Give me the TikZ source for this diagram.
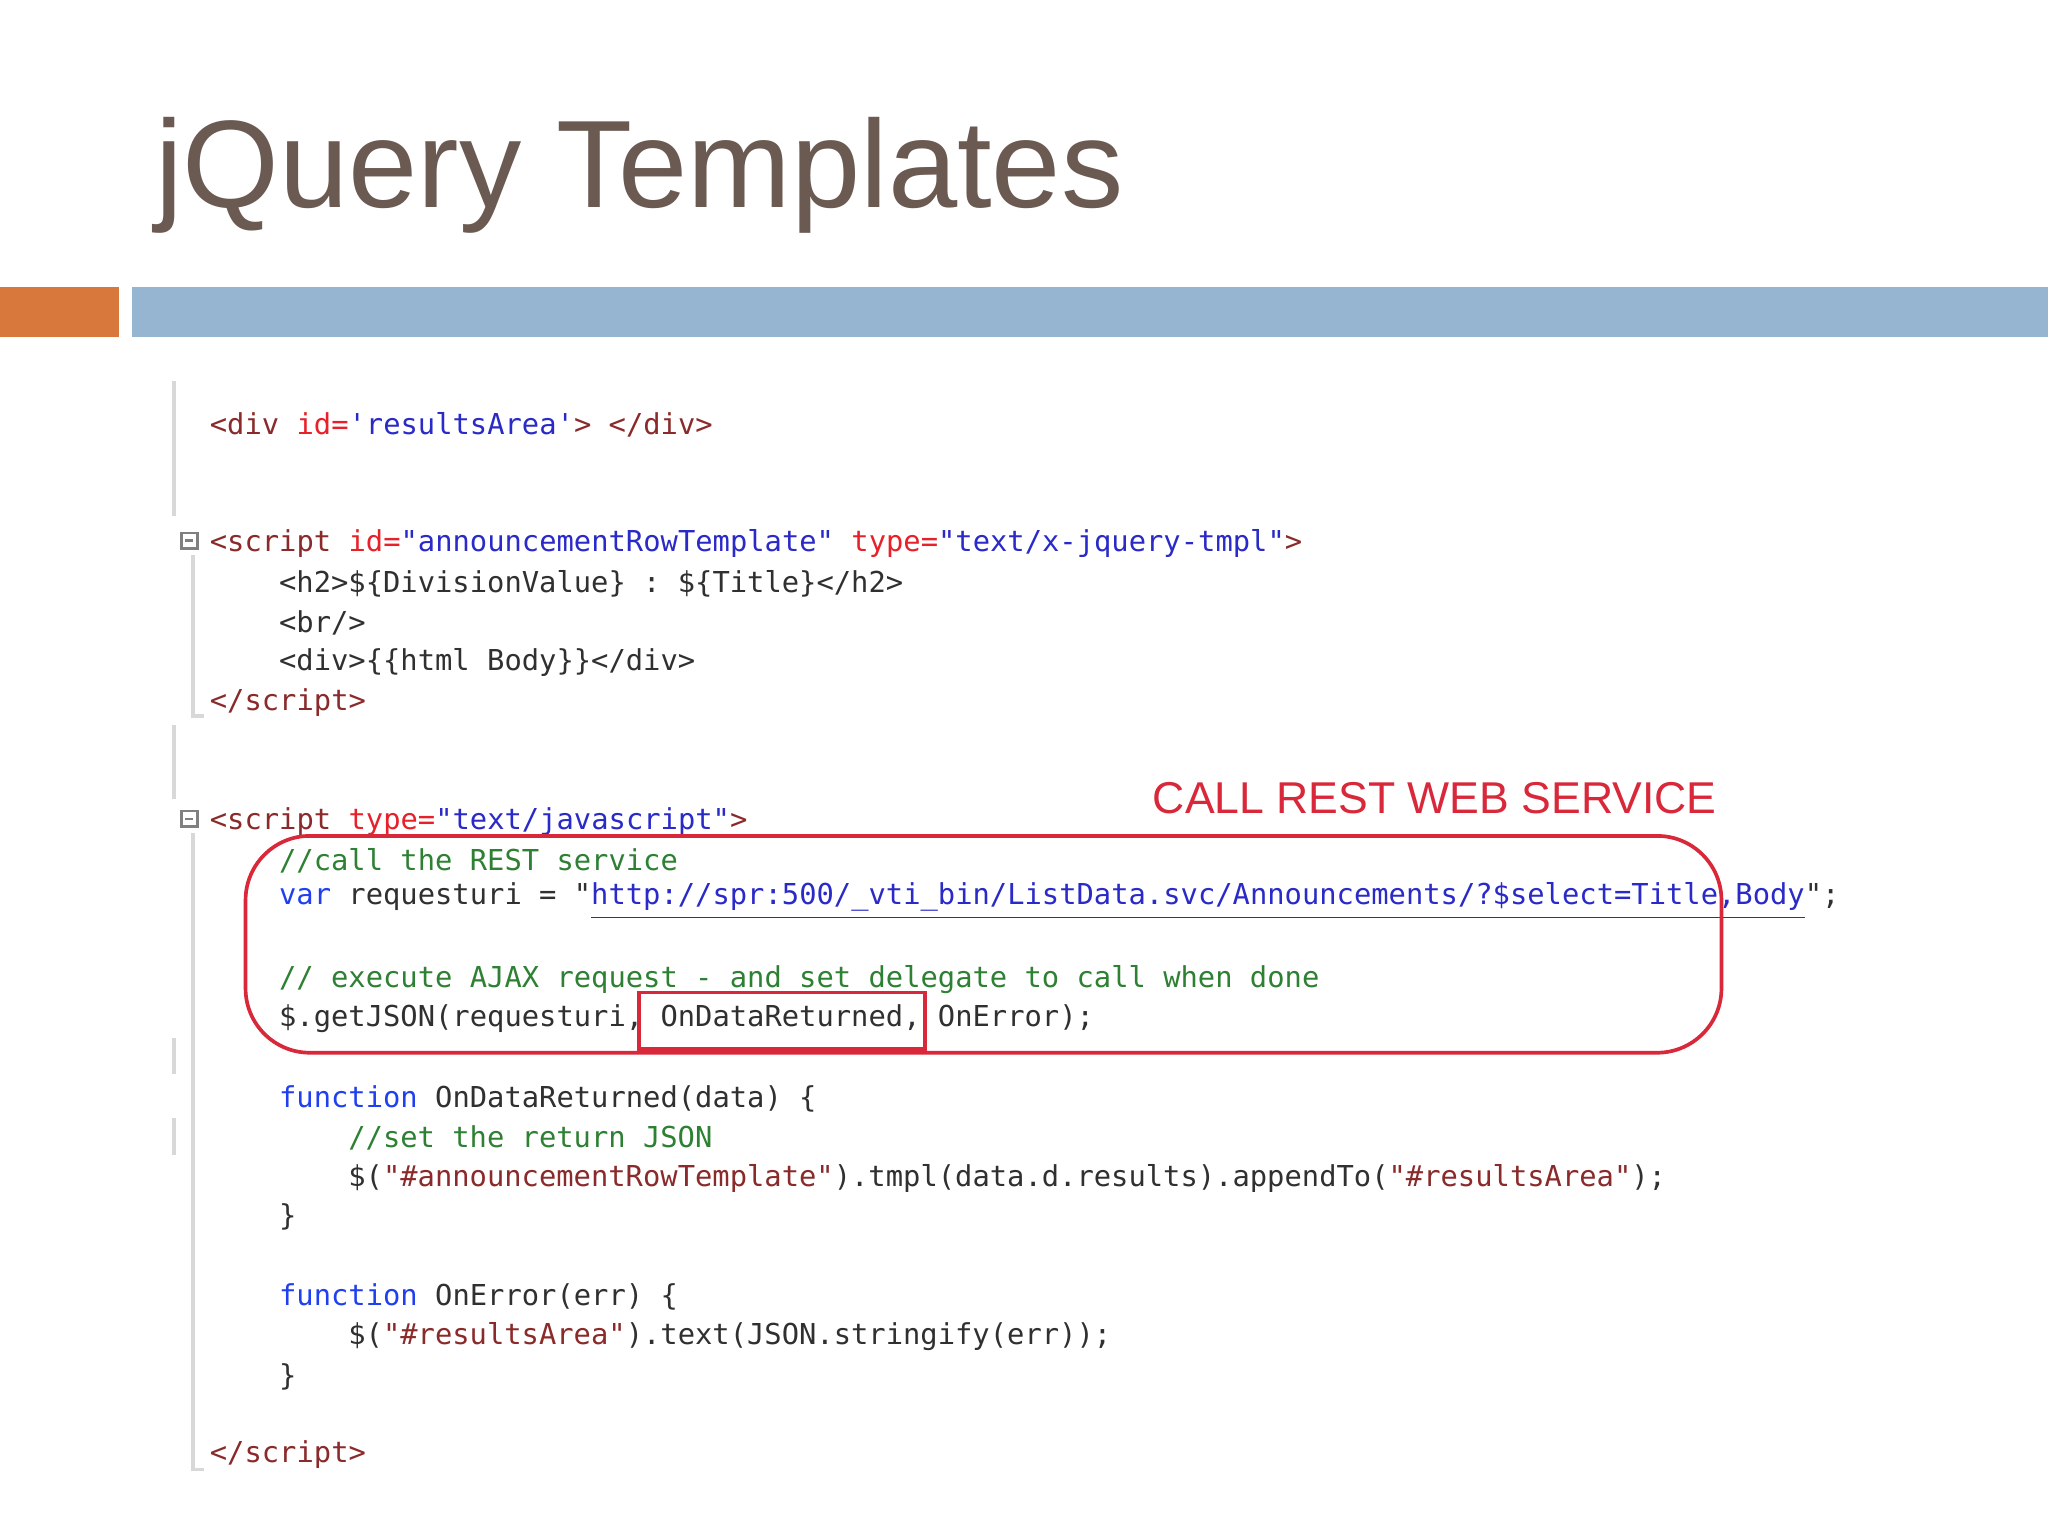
\documentclass[tikz,border=0pt]{standalone}
\usepackage{fontspec}
\setmainfont{Liberation Sans}
\setmonofont{DejaVu Sans Mono}
\definecolor{titlec}{HTML}{6B5A52}
\definecolor{orangec}{HTML}{D9783C}
\definecolor{bluebar}{HTML}{95B5D1}
\definecolor{tagc}{HTML}{8A2A2A}
\definecolor{attrc}{HTML}{E8202A}
\definecolor{valc}{HTML}{2A2AC8}
\definecolor{cmtc}{HTML}{2E8033}
\definecolor{kwc}{HTML}{2040F0}
\definecolor{codec}{HTML}{303030}
\definecolor{redbox}{HTML}{D8283A}
\definecolor{gutter}{HTML}{D8D8D8}
\newcommand\Tg[1]{\textcolor{tagc}{#1}}
\newcommand\At[1]{\textcolor{attrc}{#1}}
\newcommand\Va[1]{\textcolor{valc}{#1}}
\newcommand\Cm[1]{\textcolor{cmtc}{#1}}
\newcommand\Kw[1]{\textcolor{kwc}{#1}}
\begin{document}
\begin{tikzpicture}[x=0.01cm,y=-0.01cm,
  code/.style={anchor=west,inner sep=0pt,font=\ttfamily\fontsize{6.27pt}{7pt}\selectfont,text=codec},
  gut/.style={draw=gutter,line width=0.8pt}]
\useasboundingbox (0,0) rectangle (1568,1176);
\fill[white] (0,0) rectangle (1568,1176);
\node[anchor=west,inner sep=0pt,text=titlec,font=\fontsize{27.1pt}{30pt}\selectfont] (title) at (118,134) {jQuery Templates};
\fill[orangec] (0,220) rectangle (91,258);
\fill[bluebar] (101,220) rectangle (1568,258);
% gutter
\draw[gut] (133,292) -- (133,395);
\draw[gut] (148,425) -- (148,548) -- (156,548);
\draw[gut] (133,555) -- (133,612);
\draw[gut] (148,638) -- (148,1125) -- (156,1125);
\draw[gut] (133,795) -- (133,822);
\draw[gut] (133,856) -- (133,884);
\draw[draw=gray,line width=0.6pt] (139,408) rectangle (151,420);
\draw[draw=gray,line width=0.6pt] (142,414) -- (148,414);
\draw[draw=gray,line width=0.6pt] (139,621) rectangle (151,633);
\draw[draw=gray,line width=0.6pt] (142,627) -- (148,627);
% code
\node[code] (l1) at (160,325) {\Tg{<div} \At{id=}\Va{'resultsArea'}\Tg{> </div>}};
\node[code] (l2) at (160,416) {\Tg{<script} \At{id=}\Va{"announcementRowTemplate"} \At{type=}\Va{"text/x-jquery-tmpl"}\Tg{>}};
\node[code] (l3) at (213,447) {<h2>\$\{DivisionValue\} : \$\{Title\}</h2>};
\node[code] (l4) at (213,477) {<br/>};
\node[code] (l5) at (213,507) {<div>\{\{html Body\}\}</div>};
\node[code] (l6) at (160,538) {\Tg{</script>}};
\node[code] (l7) at (160,629) {\Tg{<script} \At{type=}\Va{"text/javascript"}\Tg{>}};
\node[code] (l8) at (213,659) {\Cm{//call the REST service}};
\node[code] (l9) at (213,690) {\Kw{var} requesturi = "\Va{\underline{http://spr:500/\_vti\_bin/ListData.svc/Announcements/?\$select=Title,Body}}";};
\node[code] (l10) at (213,750) {\Cm{// execute AJAX request - and set delegate to call when done}};
\node[code] (l11) at (213,780) {\$.getJSON(requesturi, OnDataReturned, OnError);};
\node[code] (l12) at (213,841) {\Kw{function} OnDataReturned(data) \{};
\node[code] (l13) at (266,871) {\Cm{//set the return JSON}};
\node[code] (l14) at (266,902) {\$(\Tg{"\#announcementRowTemplate"}).tmpl(data.d.results).appendTo(\Tg{"\#resultsArea"});};
\node[code] (l15) at (213,932) {\}};
\node[code] (l16) at (213,993) {\Kw{function} OnError(err) \{};
\node[code] (l17) at (266,1023) {\$(\Tg{"\#resultsArea"}).text(JSON.stringify(err));};
\node[code] (l18) at (213,1054) {\}};
\node[code] (l19) at (160,1114) {\Tg{</script>}};
% annotation
\node[anchor=west,inner sep=0pt,text=redbox,font=\fontsize{9.7pt}{12pt}\selectfont] (call) at (882,611) {CALL REST WEB SERVICE};
\draw[redbox,line width=0.8pt,rounded corners=14pt] (188,640) rectangle (1318,806);
\draw[redbox,line width=0.8pt] (489,760) rectangle (708,803);
\end{tikzpicture}
\end{document}
